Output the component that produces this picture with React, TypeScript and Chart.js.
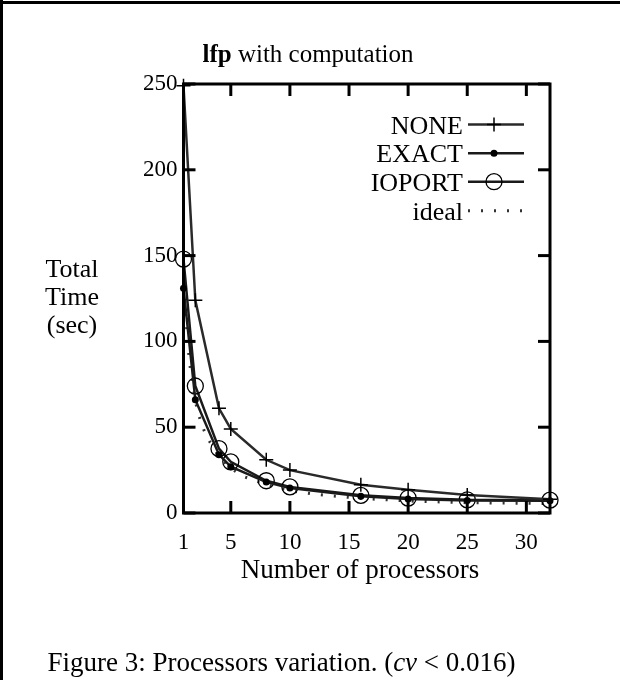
import React, { useEffect, useRef } from "react";
import { Chart, registerables } from "chart.js";

Chart.register(...registerables);

// ---- data ----
const processors = [1, 2, 4, 5, 8, 10, 16, 20, 25, 32];
const noneTimes = [249, 124, 61, 49, 31, 25, 16.5, 13.5, 10.5, 8];
const exactTimes = [131, 66, 34, 27, 18, 14.5, 9.7, 8.1, 7.3, 7.2];
const ioportTimes = [148, 74, 37.5, 29.8, 18.8, 15.2, 10.3, 8.7, 7.7, 7.5];
const idealProcessors = [1, 1.5, 2, 2.5, 3, 4, 5, 6, 8, 10, 12, 16, 20, 25, 32];
const idealTimes = [131, 88, 65, 52, 44, 33, 26, 21.5, 16.5, 13, 11, 8.5, 7, 6, 5.5];
const xTickValues = [1, 5, 10, 15, 20, 25, 30];
const yTickValues = [0, 50, 100, 150, 200, 250];
const seriesNames = ["NONE", "EXACT", "IOPORT", "ideal"];
const titleBold = "lfp";
const titleRest = " with computation";
const yAxisLabelLines = ["Total", "Time", "(sec)"];
const xAxisLabel = "Number of processors";
const captionParts = ["Figure 3: Processors variation. (", "cv", " < 0.016)"];

const SERIF = '"Liberation Serif", "Times New Roman", serif';

function line(ctx: CanvasRenderingContext2D, x1: number, y1: number, x2: number, y2: number) {
  ctx.beginPath();
  ctx.moveTo(x1, y1);
  ctx.lineTo(x2, y2);
  ctx.stroke();
}

const decorations = {
  id: "decorations",
  afterDraw(chart: any) {
    const { ctx, chartArea: a, scales } = chart;
    const xs = scales.x;
    const ys = scales.y;
    ctx.save();
    // outer frame (top and left)
    ctx.fillStyle = "#000";
    ctx.fillRect(0, 1, 620, 3);
    ctx.fillRect(0, 0, 3, 680);

    // plot box
    ctx.strokeStyle = "#000";
    ctx.lineWidth = 3;
    ctx.strokeRect(a.left, a.top, a.right - a.left, a.bottom - a.top);

    // inward ticks, mirrored
    const tl = 12;
    for (const t of xs.ticks) {
      const px = xs.getPixelForValue(t.value);
      line(ctx, px, a.bottom, px, a.bottom - tl);
      line(ctx, px, a.top, px, a.top + tl);
    }
    for (const t of ys.ticks) {
      const py = ys.getPixelForValue(t.value);
      line(ctx, a.left, py, a.left + tl, py);
      line(ctx, a.right, py, a.right - tl, py);
    }

    ctx.fillStyle = "#000";
    ctx.textBaseline = "alphabetic";

    // title
    ctx.font = `bold 25px ${SERIF}`;
    const wb = ctx.measureText(titleBold).width;
    ctx.font = `25px ${SERIF}`;
    const wr = ctx.measureText(titleRest).width;
    const tx = 308 - (wb + wr) / 2;
    ctx.textAlign = "left";
    ctx.font = `bold 25px ${SERIF}`;
    ctx.fillText(titleBold, tx, 62);
    ctx.font = `25px ${SERIF}`;
    ctx.fillText(titleRest, tx + wb, 62);

    // y axis label
    ctx.textAlign = "center";
    ctx.font = `26px ${SERIF}`;
    const yl = [277, 305, 333];
    yAxisLabelLines.forEach((s, i) => ctx.fillText(s, 72, yl[i]));

    // x axis label
    ctx.font = `27px ${SERIF}`;
    ctx.fillText(xAxisLabel, 360, 578);

    // caption
    ctx.textAlign = "left";
    const CF = 27;
    ctx.font = `${CF}px ${SERIF}`;
    const w0 = ctx.measureText(captionParts[0]).width;
    const w2 = ctx.measureText(captionParts[2]).width;
    ctx.font = `italic ${CF}px ${SERIF}`;
    const w1 = ctx.measureText(captionParts[1]).width;
    let cx = 281.5 - (w0 + w1 + w2) / 2;
    ctx.font = `${CF}px ${SERIF}`;
    ctx.fillText(captionParts[0], cx, 671);
    cx += w0;
    ctx.font = `italic ${CF}px ${SERIF}`;
    ctx.fillText(captionParts[1], cx, 671);
    cx += w1;
    ctx.font = `${CF}px ${SERIF}`;
    ctx.fillText(captionParts[2], cx, 671);

    // legend
    const rows = [124.5, 153.3, 181.7, 210.7];
    ctx.font = `26px ${SERIF}`;
    ctx.textAlign = "right";
    chart.data.datasets.forEach((ds: any, i: number) => {
      const ry = rows[i];
      ctx.fillStyle = "#000";
      ctx.fillText(ds.label, 463, ry + 9);
      ctx.save();
      ctx.strokeStyle = ds.borderColor;
      ctx.lineWidth = ds.borderWidth;
      ctx.setLineDash(ds.borderDash || []);
      line(ctx, 468, ry, 524, ry);
      ctx.restore();
      const mx = 494;
      if (ds.pointRadius > 0) {
        ctx.save();
        if (ds.pointStyle === "cross") {
          ctx.strokeStyle = "#000";
          ctx.lineWidth = ds.pointBorderWidth;
          line(ctx, mx - ds.pointRadius, ry, mx + ds.pointRadius, ry);
          line(ctx, mx, ry - ds.pointRadius, mx, ry + ds.pointRadius);
        } else {
          ctx.beginPath();
          ctx.arc(mx, ry, ds.pointRadius, 0, Math.PI * 2);
          if (ds.pointBackgroundColor !== "transparent") {
            ctx.fillStyle = ds.pointBackgroundColor;
            ctx.fill();
          } else {
            ctx.strokeStyle = "#000";
            ctx.lineWidth = ds.pointBorderWidth;
            ctx.stroke();
          }
        }
        ctx.restore();
      }
    });
    ctx.restore();
  },
};

export default function App() {
  const ref = useRef<HTMLCanvasElement | null>(null);
  useEffect(() => {
    if (!ref.current) return;
    const toXY = (xs: number[], ys: number[]) => xs.map((x, i) => ({ x, y: ys[i] }));
    const chart = new Chart(ref.current, {
      type: "line",
      data: {
        datasets: [
          {
            label: seriesNames[0],
            data: toXY(processors, noneTimes),
            borderColor: "#2a2a2a",
            borderWidth: 2.5,
            pointStyle: "cross",
            pointRadius: 7,
            pointBorderWidth: 1.5,
            pointBorderColor: "#000",
            pointBackgroundColor: "transparent",
            clip: 14,
          },
          {
            label: seriesNames[1],
            data: toXY(processors, exactTimes),
            borderColor: "#1a1a1a",
            borderWidth: 2.5,
            pointStyle: "circle",
            pointRadius: 3.5,
            pointBorderWidth: 0,
            pointBackgroundColor: "#000",
            clip: 14,
          },
          {
            label: seriesNames[2],
            data: toXY(processors, ioportTimes),
            borderColor: "#1a1a1a",
            borderWidth: 2.5,
            pointStyle: "circle",
            pointRadius: 8,
            pointBorderWidth: 1.3,
            pointBorderColor: "#000",
            pointBackgroundColor: "transparent",
            clip: 14,
          },
          {
            label: seriesNames[3],
            data: toXY(idealProcessors, idealTimes),
            borderColor: "#333",
            borderWidth: 3,
            borderDash: [2, 11],
            pointRadius: 0,
            clip: 14,
          },
        ],
      } as any,
      options: {
        animation: false,
        responsive: false,
        events: [],
        layout: { padding: { left: 100, right: 70, top: 84, bottom: 127 } },
        plugins: { legend: { display: false }, title: { display: false }, tooltip: { enabled: false } },
        scales: {
          x: {
            type: "linear",
            min: 1,
            max: 32,
            grid: { display: false, drawTicks: false },
            border: { display: false },
            afterBuildTicks: (axis: any) => {
              axis.ticks = xTickValues.map((v) => ({ value: v }));
            },
            afterFit: (axis: any) => {
              axis.height = 40;
            },
            ticks: { color: "#000", font: { family: SERIF, size: 23 }, padding: 16, maxRotation: 0, autoSkip: false },
          },
          y: {
            type: "linear",
            min: 0,
            max: 250,
            grid: { display: false, drawTicks: false },
            border: { display: false },
            afterBuildTicks: (axis: any) => {
              axis.ticks = yTickValues.map((v) => ({ value: v }));
            },
            afterFit: (axis: any) => {
              axis.width = 83.5;
            },
            ticks: { color: "#000", font: { family: SERIF, size: 23 }, padding: 6 },
          },
        },
      } as any,
      plugins: [decorations],
    });
    return () => chart.destroy();
  }, []);
  return (
    <div style={{ position: "fixed", left: 0, top: 0, width: 620, height: 680, background: "#fff" }}>
      <canvas ref={ref} width={620} height={680} />
    </div>
  );
}
